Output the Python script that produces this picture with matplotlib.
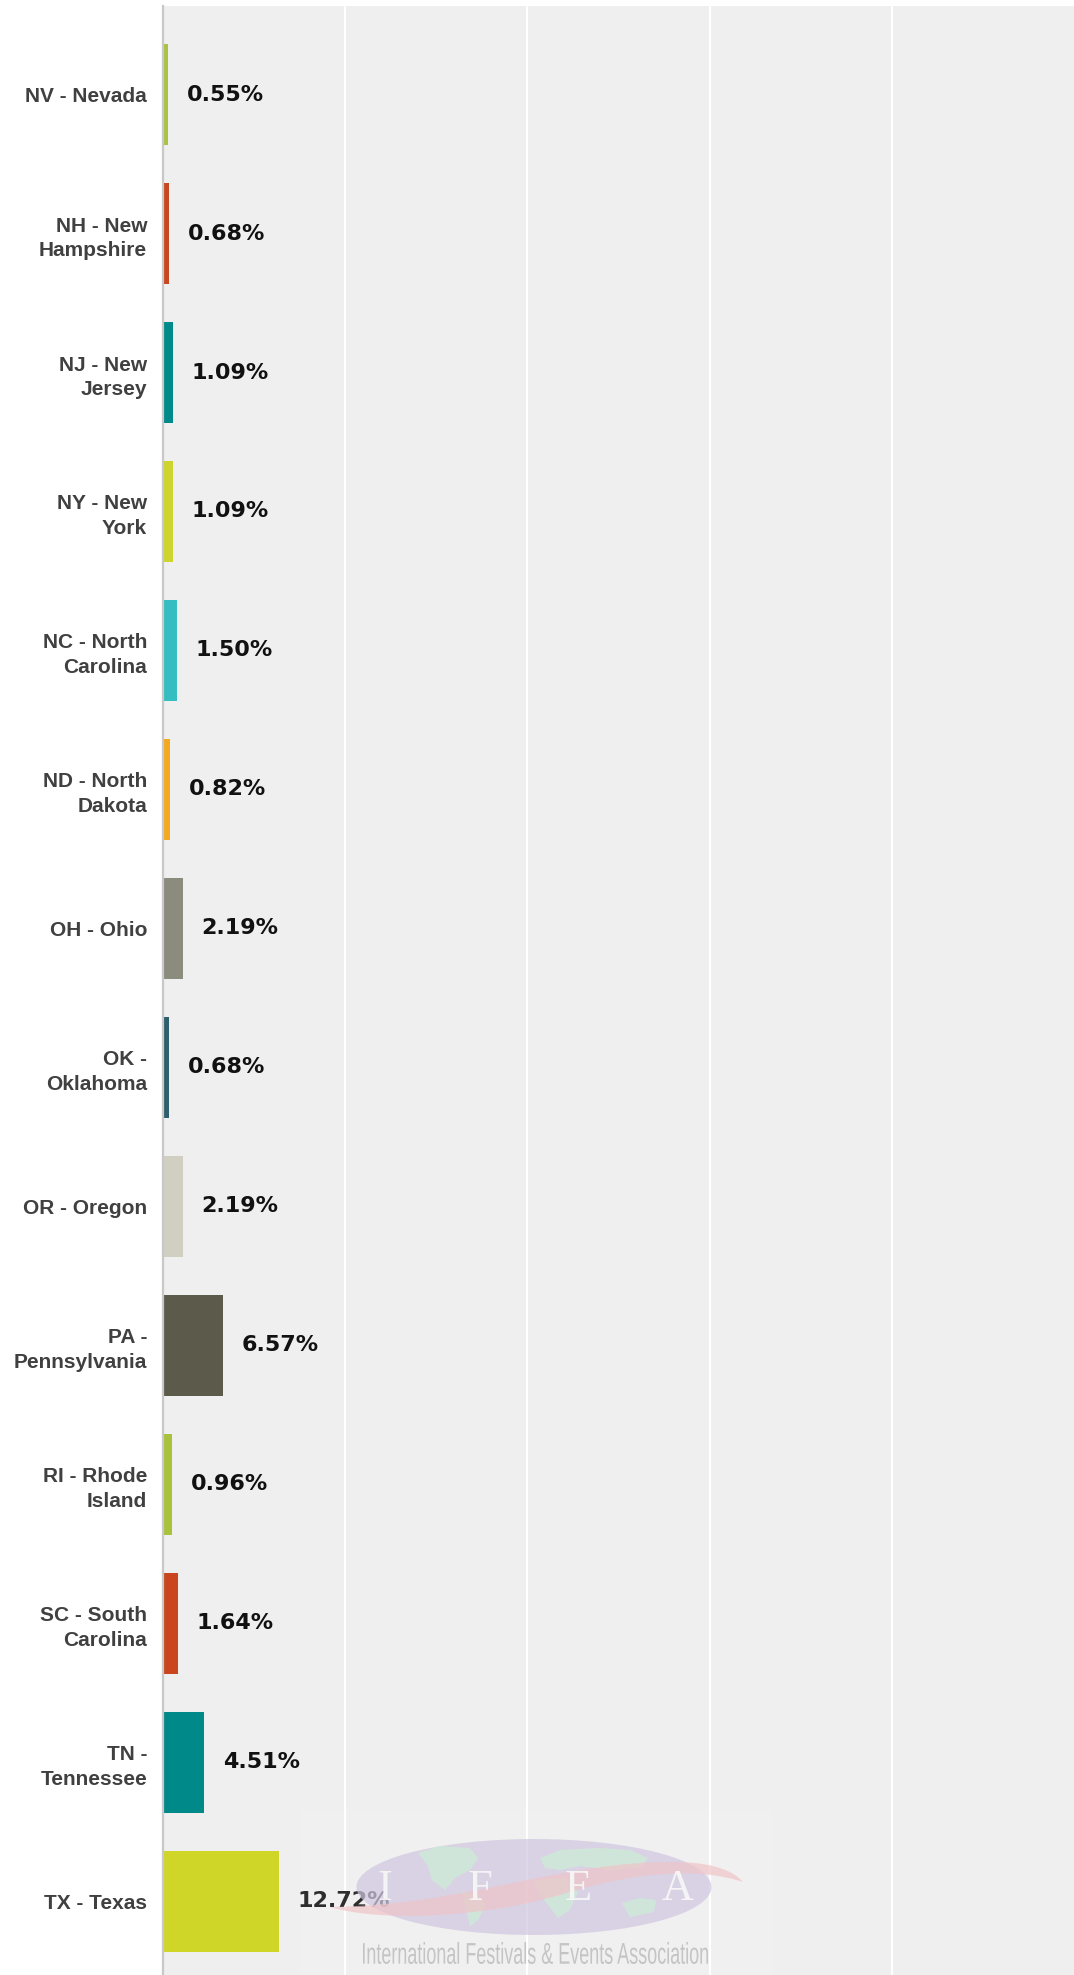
import numpy as np
import matplotlib.pyplot as plt
import matplotlib.transforms as mtransforms
from matplotlib.patches import Ellipse, Rectangle, PathPatch, Polygon
from matplotlib.path import Path
from matplotlib.textpath import TextPath
from matplotlib.font_manager import FontProperties

# data
STATES = ["NV - Nevada", "NH - New\nHampshire", "NJ - New\nJersey", "NY - New\nYork",
          "NC - North\nCarolina", "ND - North\nDakota", "OH - Ohio", "OK -\nOklahoma",
          "OR - Oregon", "PA -\nPennsylvania", "RI - Rhode\nIsland", "SC - South\nCarolina",
          "TN -\nTennessee", "TX - Texas"]
PCT = [0.55, 0.68, 1.09, 1.09, 1.50, 0.82, 2.19, 0.68, 2.19, 6.57, 0.96, 1.64, 4.51, 12.72]
COLORS = ["#a9c23f", "#c9481f", "#008b8a", "#cdd42b", "#34bec2", "#f5a91f", "#8b8c7d",
          "#2f5f6e", "#d1cfc2", "#5c5a4b", "#a9c23c", "#c9461e", "#008989", "#cfd628"]
GRID_TICKS = [20, 40, 60, 80]

W, H = 1074, 1975


def main():
    fig = plt.figure(figsize=(W / 100, H / 100), dpi=100)
    ax = fig.add_axes([163 / W, 0, 1 - 163 / W, (H - 6) / H])

    y = np.arange(len(STATES))
    ax.barh(y, PCT, height=0.727, color=COLORS, zorder=3)
    ax.set_xlim(0, 100)
    ax.set_ylim(13.53, -0.637)
    ax.set_facecolor("#efefef")

    ax.set_xticks(GRID_TICKS)
    ax.xaxis.grid(True, color="white", linewidth=1.6)
    ax.set_axisbelow(True)
    ax.tick_params(axis="x", length=0, labelbottom=False)

    for side in ["top", "right", "bottom"]:
        ax.spines[side].set_visible(False)
    ax.spines["left"].set_color("#c8c8c8")
    ax.spines["left"].set_linewidth(1.6)
    ax.spines["left"].set_zorder(4)

    ax.set_yticks(y, STATES)
    ax.tick_params(axis="y", length=0, pad=11.5)
    for lbl in ax.get_yticklabels():
        lbl.set_fontfamily("Liberation Sans")
        lbl.set_fontweight("bold")
        lbl.set_fontsize(15)
        lbl.set_color("#404040")
        lbl.set_linespacing(1.35)

    for i, v in enumerate(PCT):
        ax.annotate(f"{v:.2f}%", xy=(v, i), xytext=(13.5, 0), textcoords="offset points",
                    ha="left", va="center", fontsize=16, fontweight="bold",
                    color="#111111", zorder=5)

    # watermark (IFEA logo), in pixel coords with y going down
    px = mtransforms.Affine2D().scale(1 / W, -1 / H).translate(0, 1) + fig.transFigure

    fig.add_artist(Rectangle((300, 1810), 473, 165, transform=px,
                             facecolor="white", alpha=0.12, edgecolor="none", zorder=10))
    fig.add_artist(Ellipse((534, 1887), 355, 96, transform=px,
                           facecolor="#cfc6e0", alpha=0.7, edgecolor="none", zorder=11))

    continents = [
        [(418, 1853), (440, 1846), (470, 1848), (478, 1858), (470, 1870), (455, 1878),
         (445, 1890), (432, 1880), (428, 1866)],
        [(462, 1892), (478, 1895), (486, 1905), (478, 1920), (470, 1926), (466, 1910)],
        [(540, 1858), (560, 1850), (600, 1848), (630, 1850), (648, 1858), (640, 1868),
         (610, 1870), (580, 1866), (560, 1870), (545, 1868)],
        [(535, 1880), (565, 1878), (578, 1892), (570, 1910), (558, 1918), (548, 1905),
         (538, 1892)],
        [(622, 1903), (640, 1898), (656, 1900), (654, 1912), (630, 1917)],
    ]
    for pts in continents:
        fig.add_artist(Polygon(pts, closed=True, transform=px, facecolor="#cfe9d8",
                               edgecolor="none", alpha=0.85, zorder=12))

    codes = [Path.MOVETO, Path.CURVE4, Path.CURVE4, Path.CURVE4,
             Path.CURVE4, Path.CURVE4, Path.CURVE4,
             Path.CURVE4, Path.CURVE4, Path.CURVE4,
             Path.CURVE4, Path.CURVE4, Path.CURVE4, Path.CLOSEPOLY]
    verts = [(330, 1907), (470, 1905), (560, 1860), (680, 1862),
             (715, 1863), (735, 1872), (743, 1882),
             (700, 1868), (640, 1870), (560, 1895),
             (480, 1918), (380, 1922), (330, 1907), (330, 1907)]
    fig.add_artist(PathPatch(Path(verts, codes), transform=px, facecolor="#f0c4c8",
                             edgecolor="none", alpha=0.7, zorder=13))

    for letter, lx in zip("IFEA", [385, 480, 578, 678]):
        fig.text(lx, 1889, letter, transform=px, ha="center", va="center",
                 family="Liberation Serif", fontsize=32, color="#f8f8f8", alpha=0.9,
                 zorder=14)

    # condensed caption, squeezed to the logo width
    tp = TextPath((0, 0), "International Festivals & Events Association", size=100,
                  prop=FontProperties(family="Liberation Sans"))
    bb = tp.get_extents()
    sx = (708 - 363) / bb.width
    sy = 22 / bb.height
    tr = mtransforms.Affine2D().translate(-bb.x0, -bb.y0).scale(sx, -sy).translate(363, 1964)
    fig.add_artist(PathPatch(tr.transform_path(tp), transform=px, facecolor="#c4c4c4",
                             edgecolor="none", zorder=14))

    fig.savefig("out.png", dpi=100)


if __name__ == "__main__":
    main()
